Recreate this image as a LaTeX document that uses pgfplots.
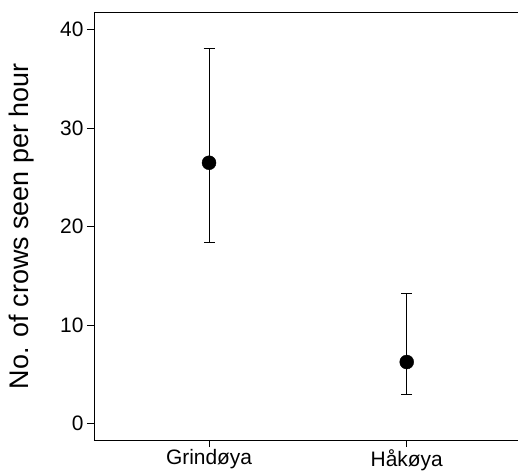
\documentclass[border=0pt]{standalone}
\usepackage{pgfplots}
\pgfplotsset{compat=1.18}
\usepackage{fontspec}
\setmainfont{Liberation Sans}

\begin{document}
\begin{tikzpicture}
\useasboundingbox (-94bp,-33bp) rectangle (424bp,440bp);
\begin{axis}[
    scale only axis,
    width=424bp,
    height=427.3bp,
    xmin=0.418, xmax=2.563,
    ymin=-1.7, ymax=41.7,
    axis x line=box,
    axis y line=left,
    axis line style={-, line width=0.8pt},
    xtick={1,2},
    xticklabels={Grindøya, Håkøya},
    xtick pos=bottom,
    ytick={0,10,20,30,40},
    ytick pos=left,
    tick align=outside,
    major tick length=7bp,
    tick style={black, line width=0.6pt},
    ticklabel style={font=\fontsize{21}{24}\selectfont},
    xticklabel style={yshift=1bp},
    /pgf/number format/assume math mode=true,
    ylabel={No. of crows seen per hour},
    every axis y label/.style={at={(rel axis cs:-0.1698,0.5)}, rotate=90, anchor=center, font=\fontsize{27}{31}\selectfont},
    clip=false,
]
\addplot[
    only marks,
    mark=*,
    mark size=7bp,
    mark options={fill=black, draw=black},
    error bars/.cd,
    y dir=both, y explicit,
    error bar style={black, line width=0.6pt},
    error mark options={rotate=90, mark size=5.5bp, black, line width=0.6pt},
] table[x=x, y=y, y error plus=ep, y error minus=em] {
x y ep em
1 26.46 11.61 8.08
2 6.22 6.98 3.32
};
\end{axis}
\end{tikzpicture}
\end{document}
